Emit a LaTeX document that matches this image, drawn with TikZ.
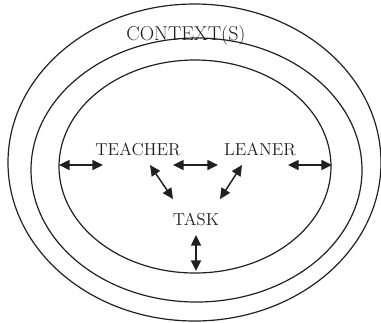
\documentclass[tikz,border=0pt]{standalone}
\usetikzlibrary{arrows.meta}
\definecolor{ink}{RGB}{35,31,32}
\begin{document}
\begin{tikzpicture}[
    x=0.75pt, y=-0.75pt,
    ring/.style={draw=ink, line width=0.9pt},
    word/.style={font=\fontsize{13}{15}\selectfont, text=ink, inner sep=0pt, anchor=base},
    link/.style={{Triangle[length=8pt,width=7.5pt]}-{Triangle[length=8pt,width=7.5pt]}, line width=1.1pt, draw=ink, shorten <=0pt, shorten >=0pt},
  ]
    \useasboundingbox (0,0) rectangle (381,322);
    % Nested contexts
    \draw[ring] (194.5,162.5) ellipse [x radius=186.5, y radius=158.5];
    \draw[ring] (196.5,170) ellipse [x radius=165.5, y radius=132];
    \draw[ring] (195,166.5) ellipse [x radius=136, y radius=106.5];
    % Labels
    \node[word, font=\fontsize{15}{17}\selectfont] (context) at (186,40) {CONTEXT(S)};
    \node[word] (teacher) at (138,155) {TEACHER};
    \node[word] (leaner) at (260,155) {LEANER};
    \node[word] (task) at (196,225) {TASK};
    % Arrow ends
    \coordinate (wall-l) at (59,165);
    \coordinate (teacher-l) at (103,165);
    \coordinate (teacher-r) at (173,165);
    \coordinate (leaner-l) at (218,165);
    \coordinate (leaner-r) at (288,165);
    \coordinate (wall-r) at (332,165);
    \coordinate (teacher-d) at (150,165);
    \coordinate (task-tl) at (173,199);
    \coordinate (leaner-d) at (242,165);
    \coordinate (task-tr) at (220,199);
    \coordinate (task-b) at (196,235);
    \coordinate (wall-b) at (196,271);
    % Interactions
    \draw[link] (wall-l) -- (teacher-l);
    \draw[link] (teacher-r) -- (leaner-l);
    \draw[link] (leaner-r) -- (wall-r);
    \draw[link] (teacher-d) -- (task-tl);
    \draw[link] (leaner-d) -- (task-tr);
    \draw[link] (task-b) -- (wall-b);
  \end{tikzpicture}
\end{document}
